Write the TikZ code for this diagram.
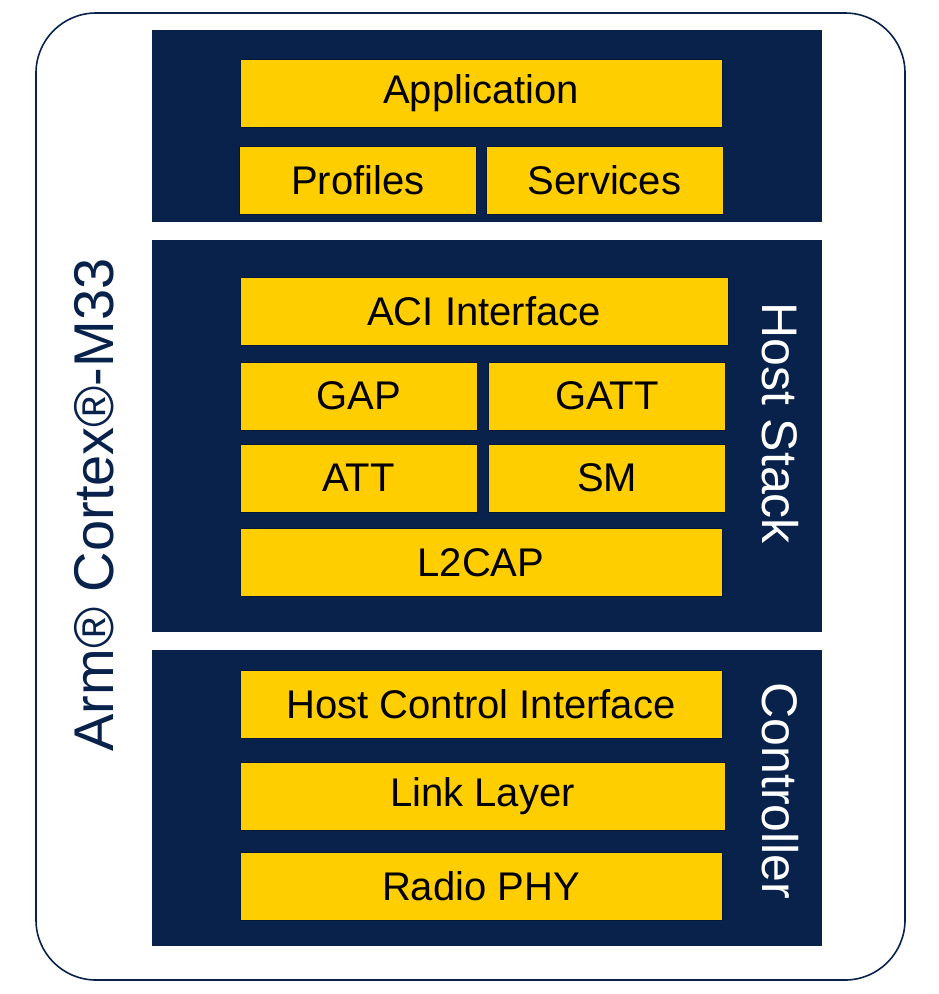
\documentclass[tikz,border=0pt]{standalone}
\usepackage{fontspec}
\setmainfont{Liberation Sans}
\definecolor{navy}{RGB}{8,34,76}
\definecolor{gold}{RGB}{255,206,0}

\tikzstyle{panel} = [rectangle, 
minimum width=670pt, 
draw=none, 
fill=navy]
\tikzstyle{block} = [rectangle, 
minimum height=68pt,
text centered, 
draw=navy!70!black, 
line width=0.6pt,
fill=gold,
text=black,
font=\fontsize{40}{48}\selectfont]
\tikzstyle{wide} = [block, minimum width=482pt]
\tikzstyle{half} = [block, minimum width=237pt]
\tikzstyle{side} = [text=white, font=\fontsize{50}{60}\selectfont]

\begin{document}
\begin{tikzpicture}[x=1pt, y=-1pt]
\useasboundingbox (0,0) rectangle (938,994);
\draw [navy, line width=1.6pt, rounded corners=60pt] (36,13) rectangle (905,980);

% panels
\node (top) [panel, minimum height=192pt] at (487,126) {};
\node (host) [panel, minimum height=392pt] at (487,436) {};
\node (ctrl) [panel, minimum height=296pt] at (487,798) {};

% application part
\node (app) [wide] at (481,93) {Application};
\node (prof) [half] at (358,180) {Profiles};
\node (serv) [half] at (604.5,180) {Services};

% host stack
\node (aci) [wide, minimum width=488pt] at (484,311.5) {ACI Interface};
\node (gap) [half] at (358.5,396) {GAP};
\node (gatt) [half] at (607,396) {GATT};
\node (att) [half] at (358.5,478) {ATT};
\node (sm) [half] at (607,478) {SM};
\node (l2cap) [wide] at (481,562.5) {L2CAP};
\node (hostlbl) [side, rotate=-90] at (780,423) {Host Stack};

% controller
\node (hci) [wide] at (481,704) {Host Control Interface};
\node (ll) [wide, minimum width=485pt] at (482.5,796) {Link Layer};
\node (phy) [wide] at (481,886.5) {Radio PHY};
\node (ctrllbl) [side, rotate=-90] at (780,791) {Controller};

\node (cpu) [rotate=90, text=navy, font=\fontsize{56}{66}\selectfont] at (94,505) {Arm® Cortex®-M33};
\end{tikzpicture}
\end{document}
